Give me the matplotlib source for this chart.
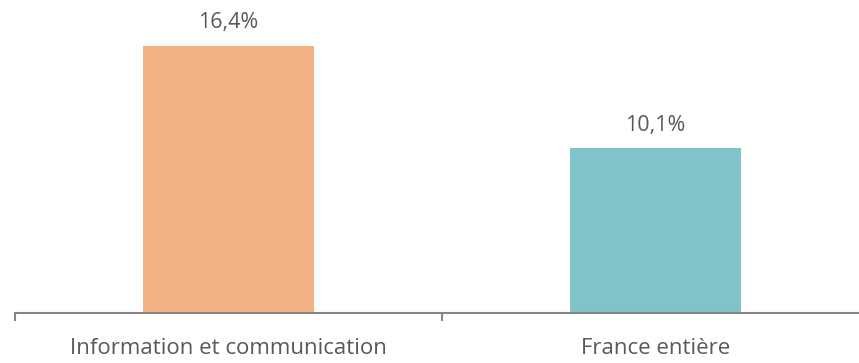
import matplotlib.pyplot as plt

categories = ["Information et communication", "France entière"]
values = [16.4, 10.1]
labels = ["16,4%", "10,1%"]
colors = ["#F4B183", "#80C3C8"]

plt.rcParams['font.family'] = ['Open Sans', 'DejaVu Sans']

fig = plt.figure(figsize=(8.59, 3.63), dpi=100)
ax = fig.add_axes([15 / 859, 50 / 363, 844 / 859, 313 / 363])

x = range(len(categories))
ax.bar(x, values, width=0.4, color=colors)
for i, (v, lab) in enumerate(zip(values, labels)):
    ax.annotate(lab, (i, v), xytext=(0, 9), textcoords="offset points",
                ha="center", va="bottom", fontsize=15.5, color="#595959")

ax.set_xlim(-0.5, -0.5 + 844 / 427)
ax.set_ylim(0, 313 / 16.3)

ax.set_xticks(list(x))
ax.set_xticklabels(categories, fontsize=16, color="#595959")
ax.tick_params(axis="x", which="major", length=0, pad=18)
ax.set_xticks([-0.5, 0.5], minor=True)  # category boundaries
ax.tick_params(axis="x", which="minor", length=6, width=1.5, color="#868686")

ax.set_yticks([])
for s in ["top", "right", "left"]:
    ax.spines[s].set_visible(False)
ax.spines["bottom"].set_color("#868686")
ax.spines["bottom"].set_linewidth(1.5)

fig.savefig("out.png", dpi=100)
